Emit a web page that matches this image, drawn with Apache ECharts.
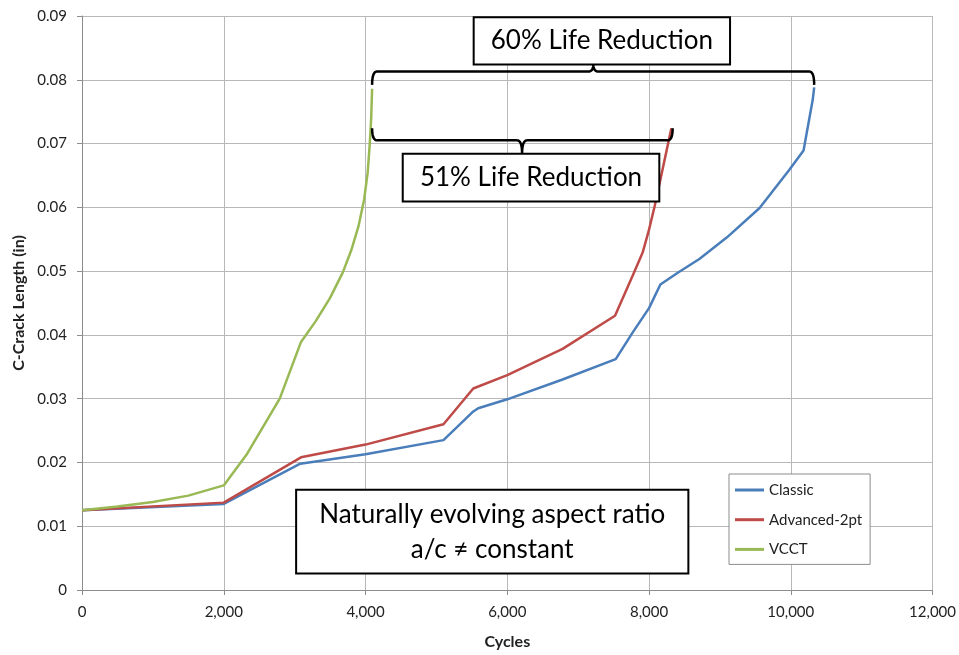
<!DOCTYPE html>
<html>
<head>
<meta charset="utf-8">
<title>C-Crack Length vs Cycles</title>
<script src="https://cdn.jsdelivr.net/npm/echarts/dist/echarts.min.js"></script>
<style>
  html, body { margin: 0; padding: 0; background: #fff; }
  #main { width: 959px; height: 655px; }
</style>
</head>
<body>
<div id="main"></div>
<script>
// data
var seriesNames = ['Classic', 'Advanced-2pt', 'VCCT'];
var seriesColors = ['#4A7EBB', '#BE4B48', '#98B954'];

var classicCycles = [0, 2000, 3080, 4000, 5100, 5510, 5590, 6000, 6780, 7530, 7770, 8000, 8160, 8400, 8710, 9100, 9560, 9980, 10180, 10310, 10330];
var classicLength = [0.0125, 0.0135, 0.0198, 0.0213, 0.0235, 0.0279, 0.0285, 0.0299, 0.0330, 0.0362, 0.0404, 0.0442, 0.0479, 0.0497, 0.0519, 0.0553, 0.0599, 0.0659, 0.0689, 0.0769, 0.0788];

var advCycles = [0, 2000, 3090, 4000, 5100, 5520, 6000, 6780, 7520, 7770, 7910, 8000, 8080, 8150, 8240, 8315];
var advLength = [0.0125, 0.0137, 0.0208, 0.0228, 0.0260, 0.0316, 0.0337, 0.0378, 0.0430, 0.0493, 0.0529, 0.0565, 0.0602, 0.0638, 0.0685, 0.0724];

var vcctCycles = [0, 500, 1000, 1500, 2000, 2320, 2790, 3090, 3300, 3500, 3680, 3800, 3900, 3980, 4030, 4060, 4080, 4093];
var vcctLength = [0.0125, 0.0131, 0.0138, 0.0148, 0.0164, 0.0212, 0.0300, 0.0389, 0.0422, 0.0458, 0.0498, 0.0533, 0.0570, 0.0612, 0.0654, 0.0700, 0.0740, 0.0786];

// annotations, in data units
var boxes = [
  { x0: 5526, x1: 9143, y0: 0.0898, y1: 0.0824, text: '60% Life Reduction' },
  { x0: 4525, x1: 8145, y0: 0.0684, y1: 0.0609, text: '51% Life Reduction' },
  { x0: 3021, x1: 8555, y0: 0.0157, y1: 0.0026, text: 'Naturally evolving aspect ratio\na/c \u2260 constant' }
];
var braces = [
  { x0: 4093, x1: 10330, xMid: 7214, yLine: 0.0813, yEnd: 0.0792, yTip: 0.0824 },
  { x0: 4093, x1: 8333, xMid: 6209, yLine: 0.0705, yEnd: 0.0724, yTip: 0.0684 }
];

function zip(xs, ys) {
  var out = [];
  for (var i = 0; i < xs.length; i++) out.push([xs[i], ys[i]]);
  return out;
}

var allData = [zip(classicCycles, classicLength), zip(advCycles, advLength), zip(vcctCycles, vcctLength)];

var font = 'Lato';
var series = [];
for (var i = 0; i < seriesNames.length; i++) {
  series.push({
    name: seriesNames[i],
    type: 'line',
    data: allData[i],
    symbol: 'none',
    showSymbol: false,
    lineStyle: { color: seriesColors[i], width: 2.5 },
    itemStyle: { color: seriesColors[i] }
  });
}

var chart = echarts.init(document.getElementById('main'));
var option = {
  animation: false,
  grid: { left: 82, right: 25, top: 16, bottom: 60 },
  legend: {
    orient: 'vertical',
    left: 729,
    top: 474,
    padding: [7, 8, 6, 6],
    itemGap: 11.7,
    itemWidth: 29,
    itemHeight: 3,
    icon: 'rect',
    backgroundColor: '#fff',
    borderColor: '#8c8c8c',
    borderWidth: 1,
    borderRadius: 0,
    textStyle: { fontFamily: font, fontSize: 15, lineHeight: 18, color: '#222' },
    data: seriesNames
  },
  xAxis: {
    type: 'value',
    min: 0,
    max: 12000,
    interval: 2000,
    name: 'Cycles',
    nameLocation: 'middle',
    nameGap: 44,
    nameTextStyle: { fontFamily: font, fontSize: 16, fontWeight: 'bold', color: '#222' },
    axisLine: { lineStyle: { color: '#8c8c8c', width: 1 } },
    axisTick: { show: true, length: 5, lineStyle: { color: '#8c8c8c' } },
    axisLabel: {
      margin: 15,
      fontFamily: font,
      fontSize: 15,
      color: '#222',
      formatter: function (v) { return v.toLocaleString('en-US'); }
    },
    splitLine: { show: true, lineStyle: { color: '#b8b8b8', width: 1 } }
  },
  yAxis: {
    type: 'value',
    min: 0,
    max: 0.09,
    interval: 0.01,
    name: 'C-Crack Length (in)',
    nameLocation: 'middle',
    nameGap: 55,
    nameTextStyle: { fontFamily: font, fontSize: 16, fontWeight: 'bold', color: '#222' },
    axisLine: { show: true, lineStyle: { color: '#8c8c8c', width: 1 } },
    axisTick: { show: true, length: 5, lineStyle: { color: '#8c8c8c' } },
    axisLabel: {
      margin: 15,
      fontFamily: font,
      fontSize: 15,
      color: '#222',
      formatter: function (v) { return v === 0 ? '0' : v.toFixed(2); }
    },
    splitLine: { show: true, lineStyle: { color: '#b8b8b8', width: 1 } }
  },
  series: series
};
chart.setOption(option);

// boxes and braces drawn on top, placed through the axes
function toPx(x, y) { return chart.convertToPixel({ gridIndex: 0 }, [x, y]); }

// sample a quadratic curve into points
function quad(p0, c, p1, pts) {
  for (var t = 0.1; t <= 1.0001; t += 0.1) {
    var u = 1 - t;
    pts.push([u * u * p0[0] + 2 * u * t * c[0] + t * t * p1[0],
              u * u * p0[1] + 2 * u * t * c[1] + t * t * p1[1]]);
  }
}

function buildGraphic() {
  var els = [];
  braces.forEach(function (b) {
    var a = toPx(b.x0, b.yEnd), c = toPx(b.x1, b.yEnd);
    var m = toPx(b.xMid, b.yTip);
    var L = toPx(b.x0, b.yLine)[1];
    var r = 5;
    var pts = [a];
    quad(a, [a[0], L], [a[0] + r, L], pts);
    pts.push([m[0] - r, L]);
    quad([m[0] - r, L], [m[0], L], m, pts);
    quad(m, [m[0], L], [m[0] + r, L], pts);
    pts.push([c[0] - r, L]);
    quad([c[0] - r, L], [c[0], L], c, pts);
    els.push({
      type: 'polyline',
      shape: { points: pts },
      style: { fill: null, stroke: '#000', lineWidth: 2.5, lineJoin: 'round' },
      z: 100
    });
  });
  boxes.forEach(function (b) {
    var p0 = toPx(b.x0, b.y0), p1 = toPx(b.x1, b.y1);
    els.push({
      type: 'rect',
      shape: { x: p0[0], y: p0[1], width: p1[0] - p0[0], height: p1[1] - p0[1] },
      style: { fill: '#fff', stroke: '#000', lineWidth: 2 },
      z: 100
    });
    els.push({
      type: 'text',
      x: (p0[0] + p1[0]) / 2,
      y: (p0[1] + p1[1]) / 2,
      style: {
        text: b.text,
        align: 'center',
        verticalAlign: 'middle',
        fontFamily: font,
        fontSize: 26,
        lineHeight: 35,
        fill: '#000'
      },
      z: 101
    });
  });
  return els;
}

chart.setOption({ graphic: buildGraphic() });
</script>
</body>
</html>
